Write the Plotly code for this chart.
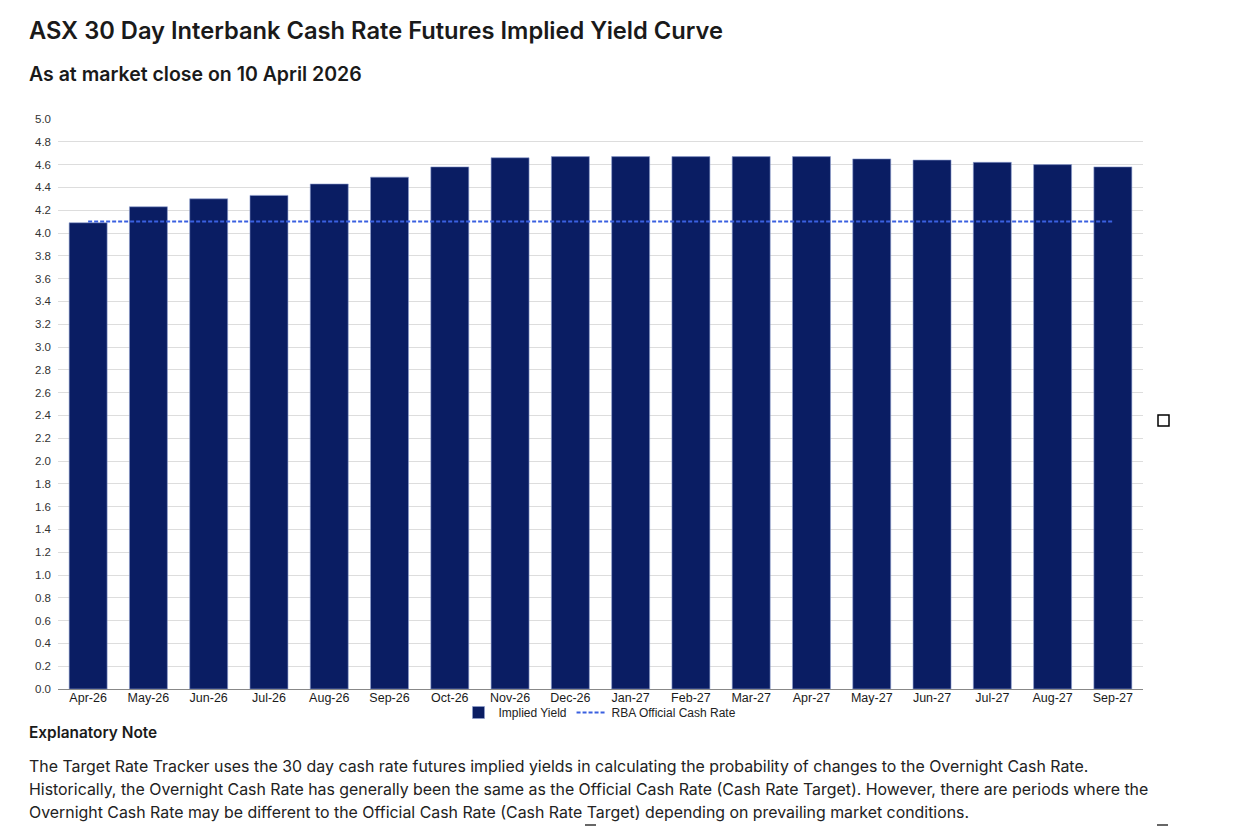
import plotly.graph_objects as go

months = ["Apr-26", "May-26", "Jun-26", "Jul-26", "Aug-26", "Sep-26", "Oct-26", "Nov-26", "Dec-26",
          "Jan-27", "Feb-27", "Mar-27", "Apr-27", "May-27", "Jun-27", "Jul-27", "Aug-27", "Sep-27"]
implied_yield = [4.09, 4.23, 4.30, 4.33, 4.43, 4.49, 4.58, 4.66, 4.67,
                 4.67, 4.67, 4.67, 4.67, 4.65, 4.64, 4.62, 4.60, 4.58]
rba_cash_rate = [4.10] * len(months)
y_ticks = [round(i * 0.2, 1) for i in range(26)]

W, H = 1244, 826
L, R, T, B = 58, 1143, 119, 689


def px(x):
    return (x - L) / (R - L)


def py(y):
    return (B - y) / (B - T)


fig = go.Figure()
fig.add_trace(go.Bar(
    x=months, y=implied_yield, name="Implied Yield",
    marker=dict(color="#0a1d63", line=dict(color="#8fa0d0", width=0.6)),
))
fig.add_trace(go.Scatter(
    x=months, y=rba_cash_rate, name="RBA Official Cash Rate", mode="lines",
    line=dict(color="#3a60e0", width=2, dash="4px,2px"),
))

FONT = "Inter, Roboto, sans-serif"
CHART_FONT = "Liberation Sans, Arial, sans-serif"

annotations = [
    dict(text="ASX 30 Day Interbank Cash Rate Futures Implied Yield Curve", x=px(27), y=py(31),
         font=dict(family=FONT, size=23.7, color="#1a1a1a", weight=600)),
    dict(text="As at market close on 10 April 2026", x=px(27), y=py(74),
         font=dict(family=FONT, size=19.5, color="#1a1a1a", weight=600)),
    dict(text="Explanatory Note", x=px(27), y=py(732),
         font=dict(family=FONT, size=15.4, color="#1a1a1a", weight=600)),
    dict(text="The Target Rate Tracker uses the 30 day cash rate futures implied yields in calculating the probability of changes to the Overnight Cash Rate.",
         x=px(27), y=py(766), font=dict(family=FONT, size=15.9, color="#222222")),
    dict(text="Historically, the Overnight Cash Rate has generally been the same as the Official Cash Rate (Cash Rate Target). However, there are periods where the",
         x=px(27), y=py(789), font=dict(family=FONT, size=15.9, color="#222222")),
    dict(text="Overnight Cash Rate may be different to the Official Cash Rate (Cash Rate Target) depending on prevailing market conditions.",
         x=px(27), y=py(812), font=dict(family=FONT, size=15.9, color="#222222")),
]
for a in annotations:
    a.update(xref="paper", yref="paper", xanchor="left", yanchor="middle", showarrow=False)

shapes = [
    dict(type="rect", xref="paper", yref="paper", x0=px(1158), x1=px(1169), y0=py(426), y1=py(415),
         line=dict(color="#000000", width=1.5), fillcolor="rgba(0,0,0,0)"),
    dict(type="line", xref="paper", yref="paper", x0=px(585), x1=px(596), y0=py(825), y1=py(825),
         line=dict(color="#000000", width=1.2)),
    dict(type="line", xref="paper", yref="paper", x0=px(1157), x1=px(1168), y0=py(825), y1=py(825),
         line=dict(color="#000000", width=1.2)),
]

fig.update_layout(
    width=W, height=H,
    margin=dict(l=L, r=W - R, t=T, b=H - B, pad=0),
    paper_bgcolor="white", plot_bgcolor="white",
    bargap=0.37,
    showlegend=True,
    legend=dict(orientation="h", x=px(600), xanchor="center", y=py(698), yanchor="top",
                font=dict(family=CHART_FONT, size=12, color="#222222"),
                itemwidth=30, tracegroupgap=0, bgcolor="rgba(0,0,0,0)"),
    annotations=annotations,
    shapes=shapes,
    xaxis=dict(type="category", range=[-0.5, len(months) - 0.5], showgrid=False,
               showline=True, linecolor="#888888", linewidth=1,
               tickfont=dict(family=CHART_FONT, size=12.5, color="#1a1a1a"),
               ticks="", ticklabelstandoff=-3),
    yaxis=dict(range=[0, 5.0], tickvals=y_ticks, ticktext=[f"{v:.1f}" for v in y_ticks],
               showgrid=True, gridcolor="#dddddd", gridwidth=1, zeroline=False,
               tickfont=dict(family=CHART_FONT, size=11.5, color="#333333"),
               ticks="", ticklabelstandoff=6),
    font=dict(family=CHART_FONT),
)

fig.write_html("out.html")
